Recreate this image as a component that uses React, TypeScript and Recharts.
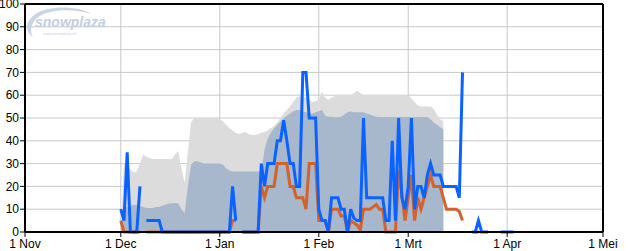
import React from 'react';
import {
  Area,
  CartesianGrid,
  ComposedChart,
  Line,
  ReferenceLine,
  XAxis,
  YAxis,
} from 'recharts';

// day 0 = 1 Nov; every series below starts at firstDay (1 Dec)
const firstDay = 30;

const monthTicks = [0, 30, 61, 92, 120, 151, 181];
const monthLabels = ['1 Nov', '1 Dec', '1 Jan', '1 Feb', '1 Mrt', '1 Apr', '1 Mei'];
const valueTicks = [0, 10, 20, 30, 40, 50, 60, 70, 80, 90, 100];

// light grey area, days 30..131
const upperDepth = [
  0, 30, 29, 27.5, 26, 26.5, 30, 34, 33, 32.5, // 30-39
  32, 32, 32, 32, 32, 32, 32, 34, 35.5, 28, // 40-49
  21.5, 35, 48, 50, 50, 50, 50, 50, 50, 50, // 50-59
  50, 49.5, 48.5, 47, 45.5, 44.5, 43.5, 43, 43.5, 44, // 60-69
  43, 42.5, 42.5, 43, 43.5, 44, 44.5, 45.5, 46.5, 48, // 70-79
  50, 52, 53.5, 55, 57, 59, 59.5, 59.5, 59, 58, // 80-89
  57, 57.5, 58, 61.5, 59, 58, 59, 59.5, 60, 60, // 90-99
  60, 60, 60, 61, 62, 61, 60, 60, 60, 60, // 100-109
  60, 60, 60, 60, 60, 60, 60, 60, 60, 60, // 110-119
  60, 58.5, 57, 55.5, 55, 55, 55, 55, 54, 51.5, // 120-129
  49.5, 48.5, // 130-131
];

// blue-grey area, days 30..131
const lowerDepth = [
  0, 10.5, 11, 11.5, 12, 12, 11.5, 11, 10.5, 10.5, // 30-39
  10.5, 11, 11, 11.5, 12, 12.5, 12.5, 12.7, 12.5, 10, // 40-49
  8.3, 20, 29.5, 31, 31, 30.5, 30, 30, 30, 30, // 50-59
  30, 30, 29.5, 28, 27, 26.5, 26.5, 26.5, 26.5, 26.5, // 60-69
  26.5, 26.5, 26.5, 26.5, 26.5, 36, 41, 43.5, 45.5, 47, // 70-79
  48.5, 50, 51, 52, 53, 53.5, 53.5, 53, 52.5, 52, // 80-89
  52, 52.5, 53, 53.5, 51, 50.6, 50.5, 50.3, 50.3, 50.5, // 90-99
  51.5, 52.5, 52.8, 52.5, 52.5, 52.5, 52.5, 52, 51.5, 51, // 100-109
  50.5, 50.4, 50.4, 50.4, 50.4, 50.4, 50.4, 50.4, 50.4, 50.4, // 110-119
  50.4, 50.4, 50.4, 50.4, 50.4, 50.4, 50.4, 49.5, 48, 47, // 120-129
  46, 45, // 130-131
];

// blue line, days 30..153
const blueSeries = [
  10, 5, 35, 0, 0, 0, 20, null, 5, 5, // 30-39
  5, 5, 5, 0, 0, 0, 0, 0, 0, 0, // 40-49
  0, 0, 0, 0, 0, 0, 0, 0, 0, 0, // 50-59
  0, 0, 0, 0, 0, 20, 5, null, 0, 0, // 60-69
  0, 0, 0, 0, 30, 20, 30, 30, 30, 40, // 70-79
  40, 49, 40, 30, 30, 20, 20, 70, 70, 50, // 80-89
  50, 50, 10, 5, 5, 0, 15, 15, 15, 10, // 90-99
  10, 0, 10, 6, 5, 5, 50, 15, 15, 15, // 100-109
  15, 15, 15, 5, 5, 40, 5, 50, 15, 10, // 110-119
  20, 50, 10, 20, 20, 15, 25, 30, 25, 25, // 120-129
  25, 20, 20, 20, 20, 20, 15, 70, null, null, // 130-139
  0, 0, 5, 0, 0, 0, null, null, null, 0, // 140-149
  0, 0, 0, 0, // 150-153
];

// orange line, days 30..153
const orangeSeries = [
  5, 0, 0, 0, 0, 0, 0, null, 0, 0, // 30-39
  0, 0, 0, 0, 0, 0, 0, 0, 0, 0, // 40-49
  0, 0, 0, 0, 0, 0, 0, 0, 0, 0, // 50-59
  0, 0, 0, 0, 0, 5, 5, null, 0, 0, // 60-69
  0, 0, 0, 0, 20, 15, 20, 20, 20, 30, // 70-79
  30, 30, 30, 20, 20, 15, 15, 15, 10, 30, // 80-89
  30, 30, 5, 5, 5, 0, 10, 10, 10, 7, // 90-99
  7, 0, 5, 4, 3, 1, 10, 10, 10, 11, // 100-109
  12, 10, 10, 0, 0, 0, 0, 27, 17, 5, // 110-119
  15, 25, 5, 15, 10, 15, 20, 25, 20, 20, // 120-129
  20, 15, 10, 10, 10, 10, 9, 5, null, null, // 130-139
  null, 0, 0, null, null, null, null, null, null, null, // 140-149
  null, null, null, null, // 150-153
];

const chartData = blueSeries.map((_, i) => ({
  day: firstDay + i,
  upper: upperDepth[i] ?? null,
  lower: lowerDepth[i] ?? null,
  blue: blueSeries[i],
  orange: orangeSeries[i] ?? null,
}));

const tickStyle = { fill: '#000', fontSize: 12, fontFamily: 'Liberation Sans, Arial, sans-serif' };

function Watermark() {
  return (
    <svg
      width={110}
      height={45}
      style={{ position: 'absolute', left: 0, top: 0, pointerEvents: 'none' }}
    >
      <path
        d="M33 37 C22 30 26 14 48 9 C62 6 80 7 92 14 C80 10 62 9 50 12 C33 16 28 28 33 37 Z"
        fill="#c9d5e3"
      />
      <text
        x={35}
        y={27}
        fontSize={14}
        fontWeight="bold"
        fontStyle="italic"
        fontFamily="Liberation Sans, Arial, sans-serif"
        fill="#c2cfdf"
      >
        snowplaza
      </text>
      <text x={43} y={35} fontSize={4} fontFamily="Liberation Sans, Arial, sans-serif" fill="#c2cfdf">
        www.snowplaza.nl
      </text>
    </svg>
  );
}

function SnowChart() {
  return (
    <ComposedChart
      width={628}
      height={251}
      data={chartData}
      margin={{ top: 4, right: 0, bottom: 0, left: 0 }}
    >
      <CartesianGrid stroke="#c8c8c8" strokeWidth={1} verticalPoints={undefined} yAxisId="l" />
      <XAxis
        dataKey="day"
        type="number"
        domain={[0, 181]}
        ticks={monthTicks}
        interval={0}
        tickFormatter={(d: number) => monthLabels[monthTicks.indexOf(d)]}
        height={19}
        tickSize={5}
        tickMargin={2}
        tick={tickStyle}
        axisLine={{ stroke: '#000', strokeWidth: 2 }}
        tickLine={{ stroke: '#000' }}
      />
      <YAxis
        yAxisId="l"
        domain={[0, 100]}
        ticks={valueTicks}
        interval={0}
        width={25}
        tickSize={5}
        tickMargin={1}
        tick={tickStyle}
        axisLine={{ stroke: '#000', strokeWidth: 2 }}
        tickLine={{ stroke: '#000' }}
      />
      <YAxis
        yAxisId="r"
        orientation="right"
        domain={[0, 100]}
        ticks={valueTicks}
        interval={0}
        width={25}
        tickSize={5}
        tickMargin={1}
        tick={tickStyle}
        axisLine={{ stroke: '#000', strokeWidth: 2 }}
        tickLine={{ stroke: '#000' }}
      />
      <Area
        yAxisId="l"
        type="linear"
        dataKey="upper"
        stroke="none"
        fill="#dcdcdc"
        fillOpacity={1}
        isAnimationActive={false}
        dot={false}
        activeDot={false}
      />
      <Area
        yAxisId="l"
        type="linear"
        dataKey="lower"
        stroke="none"
        fill="#a7b8cc"
        fillOpacity={1}
        isAnimationActive={false}
        dot={false}
        activeDot={false}
      />
      <Line
        yAxisId="l"
        type="linear"
        dataKey="orange"
        stroke="#d4622c"
        strokeWidth={3}
        dot={false}
        activeDot={false}
        isAnimationActive={false}
      />
      <Line
        yAxisId="l"
        type="linear"
        dataKey="blue"
        stroke="#0a62ff"
        strokeWidth={3}
        dot={false}
        activeDot={false}
        isAnimationActive={false}
      />
      <ReferenceLine yAxisId="l" y={100} stroke="#000" strokeWidth={2} />
    </ComposedChart>
  );
}

export default function App() {
  return (
    <div style={{ position: 'absolute', left: 0, top: 0, width: 628, height: 251, background: '#fff' }}>
      <SnowChart />
      <Watermark />
    </div>
  );
}
